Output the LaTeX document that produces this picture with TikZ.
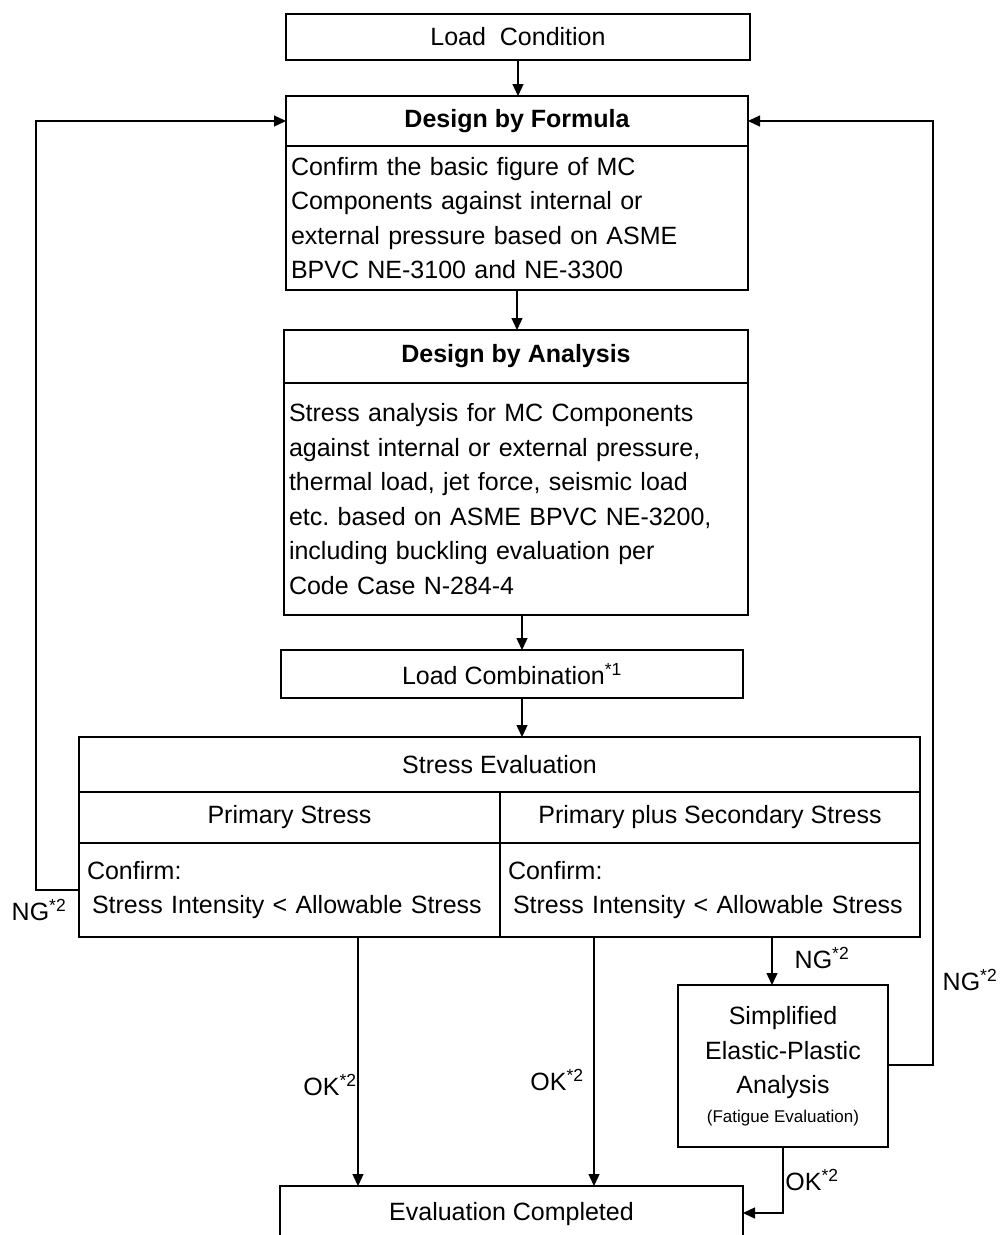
\documentclass[tikz,border=0pt]{standalone}
\usepackage{fontspec}
\setmainfont{Liberation Sans}
\usetikzlibrary{arrows.meta}
\begin{document}
\begin{tikzpicture}[x=1pt,y=-1pt,
  every node/.style={font=\fontsize{25}{34.6}\selectfont},
  box/.style={draw, line width=1.3pt, rectangle, inner sep=0pt, outer sep=0pt},
  bodytext/.style={box, inner xsep=5pt, align=left},
  lab/.style={inner sep=0pt},
  arr/.style={line width=1.3pt, -{Triangle[length=12pt,width=11pt]}},
  ln/.style={line width=1.3pt}]
\clip (0,0) rectangle (1002,1235);
\fill[white] (0,0) rectangle (1002,1235);
% boxes
\node[box, minimum width=464, minimum height=46] (lc) at (518,37) {Load~~Condition};
\node[box, minimum width=462, minimum height=50] (ft) at (517,121) {\bfseries Design by Formula};
\node[bodytext, minimum width=462, minimum height=144, text width=452] (fb) at (517,218)
  {Confirm the basic figure of MC\\Components against internal or\\external pressure based on ASME\\BPVC NE-3100 and NE-3300};
\node[box, minimum width=464, minimum height=53] (at) at (516,356.5) {\bfseries Design by Analysis};
\node[bodytext, minimum width=464, minimum height=232, text width=454] (ab) at (516,499)
  {Stress analysis for MC Components\\against internal or external pressure,\\thermal load, jet force, seismic load\\etc.\ based on ASME BPVC NE-3200,\\including buckling evaluation per\\Code Case N-284-4};
\node[box, minimum width=462, minimum height=48] (lcomb) at (512,674) {Load Combination\textsuperscript{*1}};
\node[box, minimum width=841, minimum height=55] (se) at (499.5,764.5) {Stress Evaluation};
\node[box, minimum width=421, minimum height=51] (ps) at (289.5,817.5) {Primary Stress};
\node[box, minimum width=420, minimum height=51] (pss) at (710,817.5) {Primary plus Secondary Stress};
\node[bodytext, minimum width=421, minimum height=94, text width=405, inner xsep=8pt] (pb) at (289.5,890)
  {Confirm:\\\hspace*{5pt}Stress Intensity < Allowable Stress};
\node[bodytext, minimum width=420, minimum height=94, text width=404, inner xsep=8pt] (pssb) at (710,890)
  {Confirm:\\\hspace*{5pt}Stress Intensity < Allowable Stress};
\node[box, minimum width=210, minimum height=162, align=center] (sepa) at (783,1066)
  {Simplified\\Elastic-Plastic\\Analysis\\[-6pt]{\fontsize{17}{22}\selectfont (Fatigue Evaluation)}};
\node[box, minimum width=463, minimum height=56] (ec) at (511.5,1214) {Evaluation Completed};
% connectors
\draw[arr] (lc.south) -- (lc.south |- ft.north);
\draw[arr] (fb.south) -- (fb.south |- at.north);
\draw[arr] ([xshift=6pt]ab.south) -- ([xshift=6pt]ab.south |- lcomb.north);
\draw[arr] ([xshift=10pt]lcomb.south) -- ([xshift=10pt]lcomb.south |- se.north);
\coordinate (lx) at (36,890);
\coordinate (rx) at (933,1065);
\draw[arr] (pb.west) -- (lx) -- (lx |- ft.west) -- (ft.west);
\draw[arr] (sepa.east |- rx) -- (rx) -- (rx |- ft.east) -- (ft.east);
\draw[arr] ([xshift=68.5pt]pb.south) -- ([xshift=68.5pt]pb.south |- ec.north);
\draw[arr] ([xshift=-116pt]pssb.south) -- ([xshift=-116pt]pssb.south |- ec.north);
\draw[arr] ([xshift=62pt]pssb.south) -- ([xshift=62pt]pssb.south |- sepa.north);
\coordinate (okc) at (783,1213);
\draw[arr] (sepa.south) -- (okc) -- (ec.east |- okc);
% labels
\node[lab] (ng1) at (39,910) {NG\textsuperscript{*2}};
\node[lab] (ng2) at (970,980) {NG\textsuperscript{*2}};
\node[lab] (ng3) at (822,958) {NG\textsuperscript{*2}};
\node[lab] (ok1) at (330,1085) {OK\textsuperscript{*2}};
\node[lab] (ok2) at (557,1080) {OK\textsuperscript{*2}};
\node[lab] (ok3) at (812,1180) {OK\textsuperscript{*2}};
\end{tikzpicture}
\end{document}
